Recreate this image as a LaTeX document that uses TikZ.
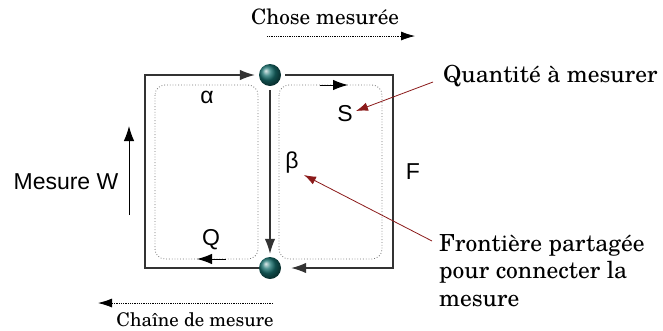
\documentclass[tikz,border=0pt]{standalone}
\usepackage{fontspec}
\setmainfont{TeX Gyre Schola}
\setsansfont{Liberation Sans}
\usetikzlibrary{arrows.meta}
\definecolor{darkred}{HTML}{8B1A1A}
\definecolor{ballc}{HTML}{17706E}
\begin{document}
\begin{tikzpicture}[x=1pt,y=-1pt,
  frame/.style={draw=black!80, line width=1.2pt},
  loopbox/.style={draw=black!55, dotted, line width=0.8pt, rounded corners=10pt},
  tip/.style={-{Latex[length=15pt,width=10.5pt]}},
  ballnode/.style={circle, minimum size=22pt, inner sep=0pt, shading=ball, ball color=ballc},
  lbl/.style={font=\sffamily\fontsize{23}{27}\selectfont, inner sep=1pt},
  ser/.style={font=\fontsize{23.5}{27.5}\selectfont, inner sep=1pt},
  redarr/.style={draw=darkred, line width=0.8pt, -{Latex[length=12pt,width=8.5pt]}, darkred},
  dotarr/.style={densely dotted, line width=0.8pt, -{Latex[length=14pt,width=9pt]}}]
\useasboundingbox (0,0) rectangle (663,330);
% corners
\coordinate (cTL) at (145,75);
\coordinate (cTR) at (393,75);
\coordinate (cBL) at (145,268);
\coordinate (cBR) at (393,268);
% dotted loops
\draw[loopbox] (155,85) rectangle (258,259);
\draw[loopbox] (279,85) rectangle (382,259);
% balls
\node[ballnode] (top) at (270,75) {};
\node[ballnode] (bot) at (270,268) {};
% frame edges
\draw[frame, tip, shorten >=4pt] (bot) -- (cBL) -- (cTL) -- (top);
\draw[frame, tip, shorten >=10pt, shorten <=4pt] (top) -- (cTR) -- (cBR) -- (bot);
\draw[frame, tip, shorten >=3pt, shorten <=4pt] (top) -- (bot);
% direction markers on loops
\coordinate (ma) at (320,85);
\coordinate (mb) at (348,85);
\draw[line width=1pt, tip] (ma) -- (mb);
\coordinate (mc) at (226,259);
\coordinate (md) at (197,259);
\draw[line width=1pt, tip] (mc) -- (md);
% labels
\node[lbl] (alpha) at (207,97) {α};
\node[lbl] (S) at (345,114) {S};
\node[lbl] (beta) at (292,163) {β};
\node[lbl] (Q) at (211,240) {Q};
\node[lbl] (F) at (413,172) {F};
\node[lbl] (W) at (66,182) {Mesure W};
\coordinate (wa) at (129,215);
\coordinate (wb) at (129,126);
\draw[line width=1pt, tip] (wa) -- (wb);
% top / bottom captions
\node[ser, font=\fontsize{21.2}{26}\selectfont] (chose) at (325,17) {Chose mesurée};
\coordinate (ca) at (267,36);
\coordinate (cb) at (415,36);
\draw[dotarr] (ca) -- (cb);
\node[ser, font=\fontsize{18.8}{24}\selectfont] (chaine) at (195,320) {Chaîne de mesure};
\coordinate (da) at (273,303);
\coordinate (db) at (98,303);
\draw[dotarr] (da) -- (db);
% right annotations
\node[ser, anchor=west] (qty) at (442,76) {Quantité à mesurer};
\node[ser, anchor=north west, align=left] (front) at (438,233) {Frontière partagée\\pour connecter la\\mesure};
\coordinate (qa) at (433,82);
\coordinate (qb) at (356,111);
\draw[redarr] (qa) -- (qb);
\coordinate (fa) at (432,241);
\coordinate (fb) at (304,175);
\draw[redarr] (fa) -- (fb);
\end{tikzpicture}
\end{document}
